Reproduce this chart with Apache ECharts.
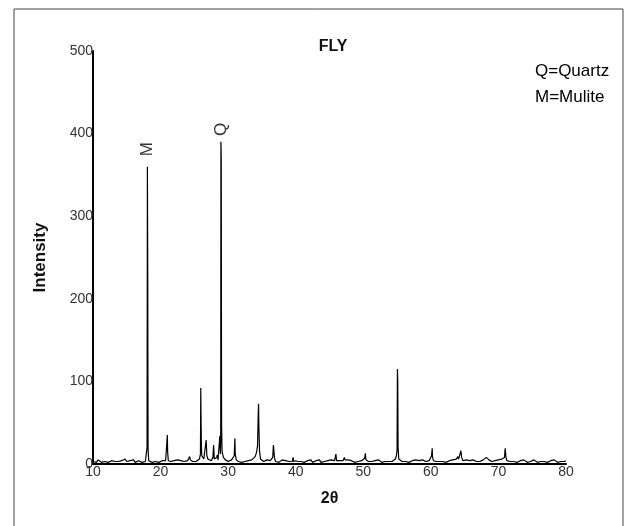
<!DOCTYPE html>
<html>
<head>
<meta charset="utf-8">
<script src="https://cdn.jsdelivr.net/npm/echarts@6/dist/echarts.min.js"></script>
<style>html,body{margin:0;padding:0;background:#fff;}#c{width:627px;height:526px;}</style>
</head>
<body>
<div id="c"></div>
<script>
const angles = [
10.0,10.25,10.5,10.75,11.0,11.25,11.5,11.75,12.0,12.25,12.5,12.75,13.0,13.25,13.5,13.75,14.0,14.25,14.5,14.75,
15.0,15.25,15.5,15.75,16.0,16.25,16.5,16.75,17.0,17.25,17.5,17.75,17.95,18.0,18.05,18.1,18.15,18.25,18.5,18.75,
19.0,19.25,19.5,19.75,20.0,20.25,20.5,20.75,20.9,21.0,21.05,21.15,21.5,21.75,22.0,22.25,22.5,22.75,23.0,23.25,
23.5,23.75,24.0,24.2,24.3,24.4,24.75,25.0,25.25,25.5,25.75,25.9,25.95,26.0,26.05,26.1,26.25,26.4,26.6,26.75,
26.85,27.0,27.25,27.5,27.75,27.85,27.95,28.1,28.3,28.4,28.5,28.7,28.78,28.85,28.9,28.93,28.98,29.03,29.1,29.3,
29.5,29.6,29.75,30.0,30.25,30.5,30.75,30.9,31.0,31.05,31.2,31.5,31.75,32.0,32.25,32.5,32.75,33.0,33.25,33.5,
33.75,34.0,34.2,34.35,34.45,34.5,34.55,34.65,34.8,35.0,35.25,35.5,35.75,36.0,36.25,36.5,36.6,36.7,36.75,36.85,
37.0,37.25,37.5,37.75,38.0,38.25,38.5,38.75,39.0,39.25,39.5,39.6,39.7,40.0,40.25,40.35,40.5,40.75,41.0,41.25,
41.5,41.75,42.0,42.25,42.5,42.75,43.0,43.25,43.5,43.75,44.0,44.25,44.5,44.75,45.0,45.25,45.5,45.75,45.95,46.05,
46.25,46.5,46.75,47.0,47.2,47.3,47.5,47.75,48.0,48.25,48.5,48.75,49.0,49.25,49.5,49.75,50.0,50.2,50.3,50.4,
50.6,50.75,51.0,51.25,51.5,51.75,52.0,52.25,52.5,52.75,53.0,53.25,53.5,53.75,54.0,54.25,54.5,54.75,54.9,55.0,
55.05,55.1,55.15,55.25,55.5,55.75,56.0,56.25,56.5,56.75,57.0,57.25,57.5,57.75,58.0,58.25,58.5,58.75,58.9,59.0,
59.25,59.5,59.75,60.0,60.1,60.2,60.25,60.4,60.75,61.0,61.25,61.5,61.75,62.0,62.25,62.5,62.75,63.0,63.25,63.5,
63.75,64.0,64.1,64.3,64.45,64.55,64.75,65.0,65.25,65.5,65.75,66.0,66.25,66.5,66.75,67.0,67.25,67.5,67.75,68.0,
68.2,68.4,68.6,68.75,69.0,69.25,69.5,69.75,70.0,70.25,70.5,70.75,70.9,71.0,71.1,71.25,71.5,71.75,72.0,72.25,
72.5,72.75,73.0,73.25,73.5,73.75,74.0,74.25,74.5,74.75,75.0,75.25,75.5,75.75,76.0,76.25,76.5,76.75,77.0,77.25,
77.5,77.75,78.0,78.25,78.5,78.75,79.0,79.25,79.5,79.75,80.0
];
const counts = [
3,4,2,5,3,2,4,3,5,2,3,4,2,3,5,3,2,4,3,6,
3,2,4,3,5,2,3,4,3,2,4,3,5,20,360,238,18,4,3,2,
4,3,5,2,3,4,3,4,6,35,14,4,3,2,4,3,5,3,4,2,
3,5,4,6,9,5,3,4,3,5,6,12,92,47,20,10,12,6,8,29,
10,6,5,4,8,23,6,5,8,11,5,6,34,12,30,390,368,47,15,8,
9,5,4,3,4,5,6,10,31,12,5,3,4,2,4,3,5,4,3,5,
6,9,14,22,60,73,45,15,6,4,3,4,5,3,4,5,8,23,18,8,
3,4,2,3,5,3,4,2,3,4,3,8,3,4,6,3,4,3,5,2,
3,4,3,5,2,3,4,3,5,2,4,3,2,4,3,5,3,4,12,4,
3,4,5,4,8,5,6,5,3,4,3,2,4,3,5,4,5,7,13,5,
6,3,4,3,2,4,3,5,3,2,4,3,4,3,5,3,4,6,10,17,
115,101,20,6,4,3,5,3,4,2,3,4,3,5,3,4,3,5,7,4,
3,5,4,6,10,19,8,4,3,4,3,5,3,4,2,3,4,3,5,4,
6,9,6,8,16,8,4,3,5,3,4,3,5,4,3,5,3,4,5,6,
8,7,5,4,3,5,4,3,5,7,6,5,8,19,9,4,5,3,4,3,
4,2,3,4,3,5,3,2,4,3,4,5,3,2,4,3,5,3,4,2,
3,4,3,5,3,2,4,3,4,3,4
];
const peakNames = ['M', 'Q'];
const peakLabelAngles = [18.05, 28.93];
const peakLabelHeights = [381, 405];
const xTicks = [10, 20, 30, 40, 50, 60, 70, 80];
const yTicks = [0, 100, 200, 300, 400, 500];
const legendLines = ['Q=Quartz', 'M=Mulite'];

const chart = echarts.init(document.getElementById('c'), null, {renderer: 'canvas'});
const pattern = angles.map((a, i) => [a, counts[i]]);
const labelPts = peakNames.map((n, i) => ({name: n, value: [peakLabelAngles[i], peakLabelHeights[i]]}));
const font = 'Liberation Sans, Arial, sans-serif';

chart.setOption({
  animation: false,
  backgroundColor: '#fff',
  title: {
    text: 'FLY', left: 328, top: 34, textAlign: 'center',
    textStyle: {fontFamily: font, fontWeight: 'bold', fontSize: 16, color: '#111'}
  },
  grid: {left: 93, right: 61, top: 51, bottom: 62, containLabel: false},
  xAxis: {
    type: 'value', min: xTicks[0], max: xTicks[xTicks.length - 1], interval: 10,
    name: '2θ', nameLocation: 'middle', nameGap: 27,
    nameTextStyle: {fontFamily: font, fontWeight: 'bold', fontSize: 16, color: '#111'},
    axisLine: {show: true, onZero: false, lineStyle: {color: '#000', width: 2}},
    axisTick: {show: false}, splitLine: {show: false},
    axisLabel: {margin: 1, fontFamily: font, fontSize: 14, color: '#333'}
  },
  yAxis: {
    type: 'value', min: yTicks[0], max: yTicks[yTicks.length - 1], interval: 100,
    name: 'Intensity', nameLocation: 'middle', nameGap: 44,
    nameTextStyle: {fontFamily: font, fontWeight: 'bold', fontSize: 17, color: '#111'},
    axisLine: {show: true, lineStyle: {color: '#000', width: 2}},
    axisTick: {show: false}, splitLine: {show: false},
    axisLabel: {margin: 0, fontFamily: font, fontSize: 14, color: '#333'}
  },
  series: [
    {
      type: 'line', data: pattern, showSymbol: false, symbol: 'none', smooth: false,
      sampling: null,
      lineStyle: {color: '#000', width: 1.2}, silent: true
    },
    {
      type: 'scatter', data: labelPts, symbolSize: 0, silent: true,
      label: {
        show: true, position: 'inside', rotate: 90,
        formatter: p => p.name,
        fontFamily: font, fontSize: 17, color: '#000'
      }
    }
  ],
  graphic: [
    {type: 'rect', shape: {x: 14, y: 9, width: 609, height: 540},
     style: {fill: 'none', stroke: '#444', lineWidth: 1}, silent: true},
    {type: 'text', left: 535, top: 63,
     style: {text: legendLines[0], fontFamily: font, fontSize: 17, fill: '#000'}},
    {type: 'text', left: 535, top: 89,
     style: {text: legendLines[1], fontFamily: font, fontSize: 17, fill: '#000'}}
  ]
});
</script>
</body>
</html>
